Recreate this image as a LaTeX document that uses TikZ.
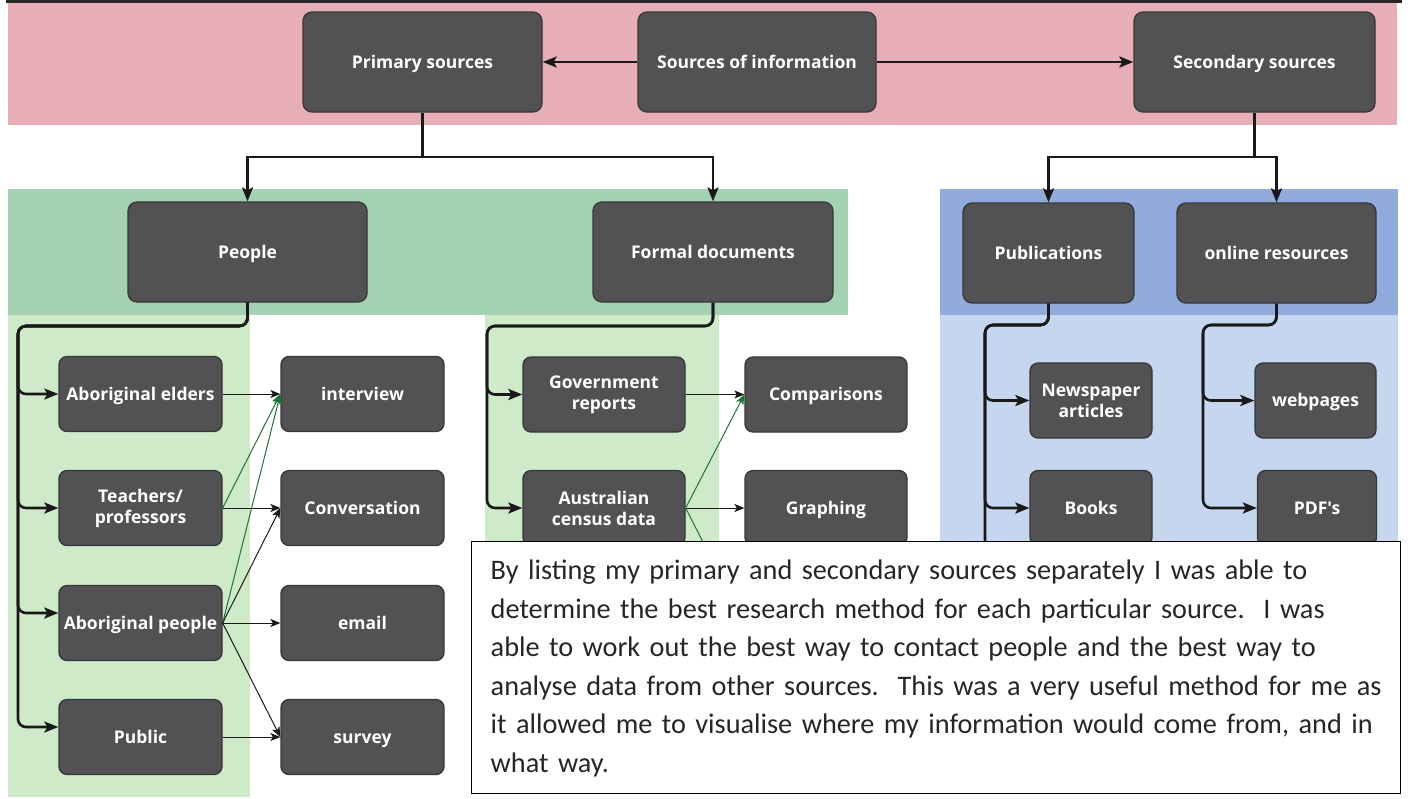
\documentclass[tikz,border=0pt]{standalone}
\usepackage{fontspec}
\setmainfont{Carlito}
\newfontfamily\boxfont{Open Sans}
\usetikzlibrary{arrows.meta}
\definecolor{pinkbg}{RGB}{231,174,183}
\definecolor{greendark}{RGB}{163,209,178}
\definecolor{greenlight}{RGB}{207,234,201}
\definecolor{bluedark}{RGB}{145,171,221}
\definecolor{bluelight}{RGB}{198,214,238}
\definecolor{boxfill}{RGB}{82,82,85}
\definecolor{boxedge}{RGB}{55,55,58}
\definecolor{lnk}{RGB}{25,25,25}
\definecolor{lnkgreen}{RGB}{30,115,55}
\tikzset{
  box/.style={draw=boxedge, line width=1.3pt, fill=boxfill, rounded corners=9pt,
    text=white, align=center, inner sep=0pt,
    font=\boxfont\bfseries\fontsize{17.5}{21}\selectfont},
  oneline/.style={text height=13pt, text depth=1pt},
  bigbox/.style={box, oneline, minimum height=100pt},
  smallbox/.style={box, minimum height=75pt, rounded corners=8pt},
  bus/.style={draw=lnk, line width=2.6pt, rounded corners=8pt,
    -{Stealth[length=14pt,width=11pt,inset=3pt]}},
  busplain/.style={draw=lnk, line width=2.6pt, rounded corners=8pt},
  topline/.style={draw=lnk, line width=2.6pt,
    -{Stealth[length=14pt,width=11pt,inset=3pt]}},
  thin/.style={draw=lnk, line width=1pt,
    -{Stealth[length=10pt,width=8pt,inset=2.5pt]}},
  thing/.style={draw=lnkgreen, line width=1pt,
    -{Stealth[length=10pt,width=8pt,inset=2.5pt]}},
  notebox/.style={draw=black, line width=1.4pt, fill=white, inner sep=0pt,
    font=\fontsize{28.3}{38.5}\selectfont, text=black!85}
}
\begin{document}
\begin{tikzpicture}[x=1pt,y=-1pt]
\useasboundingbox (0,0) rectangle (1410,798);
\fill[white] (0,0) rectangle (1410,798);
% background bands
\fill[pinkbg] (8,3) rectangle (1397,125);
\draw[black!85, line width=2.7pt] (6,1.3) -- (1402,1.3);
\fill[greendark] (8,189) rectangle (848,315);
\fill[greenlight] (8,315) rectangle (250,797);
\fill[greenlight] (485,315) rectangle (719,793);
\fill[bluedark] (940,189) rectangle (1398,315);
\fill[bluelight] (940,315) rectangle (1398,793);

% top row
\node[bigbox, minimum width=239pt] (prim) at (422.5,62) {Primary sources};
\node[bigbox, minimum width=238pt] (soi) at (757,62) {Sources of information};
\node[bigbox, minimum width=241pt] (sec) at (1254.5,62) {Secondary sources};

% second row
\node[bigbox, minimum width=239pt] (people) at (247.5,252) {People};
\node[bigbox, minimum width=240pt] (formal) at (713,252) {Formal documents};
\node[bigbox, minimum width=171pt] (pub) at (1048.5,253) {Publications};
\node[bigbox, minimum width=199pt] (online) at (1276.5,253) {online resources};

% people column
\node[smallbox, oneline, minimum width=163pt] (elders) at (140.5,394) {Aboriginal elders};
\node[smallbox, minimum width=163pt] (teachers) at (140.5,508) {Teachers/\\professors};
\node[smallbox, oneline, minimum width=163pt] (abp) at (140.5,623) {Aboriginal people};
\node[smallbox, oneline, minimum width=163pt] (public) at (140.5,737) {Public};
\node[smallbox, oneline, minimum width=163pt] (interview) at (362.5,394) {interview};
\node[smallbox, oneline, minimum width=163pt] (conv) at (362.5,508) {Conversation};
\node[smallbox, oneline, minimum width=163pt] (email) at (362.5,623) {email};
\node[smallbox, oneline, minimum width=163pt] (survey) at (362.5,737) {survey};

% formal documents column
\node[smallbox, minimum width=162pt] (gov) at (604,394.5) {Government\\reports};
\node[smallbox, minimum width=162pt] (census) at (604,508) {Australian\\census data};
\node[smallbox, oneline, minimum width=162pt] (comp) at (826,394.5) {Comparisons};
\node[smallbox, oneline, minimum width=162pt] (graph) at (826,508) {Graphing};

% secondary columns
\node[smallbox, minimum width=122pt] (news) at (1091,400.5) {Newspaper\\articles};
\node[smallbox, oneline, minimum width=122pt] (books) at (1091,508) {Books};
\node[smallbox, oneline, minimum width=121pt] (web) at (1315.5,400.5) {webpages};
\node[smallbox, oneline, minimum width=119pt] (pdf) at (1317,508) {PDF's};

% junction coordinates
\coordinate (pj) at (422.5,157);
\coordinate (sj) at (1254.5,157);
\coordinate (pbus) at (18,326);
\coordinate (fbus) at (487,326);
\coordinate (bbus) at (985,325);
\coordinate (obus) at (1203,325);
\coordinate (pubend) at (985,640);
\coordinate (cenhid) at (744,623);

% top connectors
\draw[topline] (soi.west) -- (prim.east);
\draw[topline] (soi.east) -- (sec.west);
\draw[topline] (prim.south) -- (pj) -| (people.north);
\draw[topline] (pj) -| (formal.north);
\draw[topline] (sec.south) -- (sj) -| (pub.north);
\draw[topline] (sj) -| (online.north);

% bus connectors
\draw[bus] (people.south) |- (pbus) |- (elders.west);
\draw[bus] (people.south) |- (pbus) |- (teachers.west);
\draw[bus] (people.south) |- (pbus) |- ([yshift=10pt]abp.west);
\draw[bus] (people.south) |- (pbus) |- ([yshift=10pt]public.west);
\draw[bus] (formal.south) |- (fbus) |- (gov.west);
\draw[bus] (formal.south) |- (fbus) |- (census.west);
\draw[bus] (pub.south) |- (bbus) |- (news.west);
\draw[bus] (pub.south) |- (bbus) |- (books.west);
\draw[busplain] (pub.south) |- (bbus) -- (pubend);
\draw[bus] (online.south) |- (obus) |- (web.west);
\draw[bus] (online.south) |- (obus) |- (pdf.west);

% thin connectors
\draw[thin] (elders.east) -- (interview.west);
\draw[thing] (teachers.east) -- (interview.west);
\draw[thin] (teachers.east) -- (conv.west);
\draw[thing] (abp.east) -- (interview.west);
\draw[thin] (abp.east) -- (conv.west);
\draw[thin] (abp.east) -- (email.west);
\draw[thin] (abp.east) -- (survey.west);
\draw[thin] (public.east) -- (survey.west);
\draw[thin] (gov.east) -- (comp.west);
\draw[thing] (census.east) -- (comp.west);
\draw[thin] (census.east) -- (graph.west);
\draw[thing] (census.east) -- (cenhid);

% note
\node[notebox, anchor=north west, minimum width=929pt, minimum height=252pt,
  text width=891pt, align=left, inner xsep=19pt,
  text height=22pt, text depth=198pt] (note) at (471,541)
{\mbox{By listing my primary and secondary sources separately I was able to}\\
\mbox{determine the best research method for each particular source.\ \ I was}\\
\mbox{able to work out the best way to contact people and the best way to}\\
\mbox{analyse data from other sources.\ \ This was a very useful method for me as}\\
\mbox{it allowed me to visualise where my information would come from, and in}\\
\mbox{what way.}};
\end{tikzpicture}
\end{document}
